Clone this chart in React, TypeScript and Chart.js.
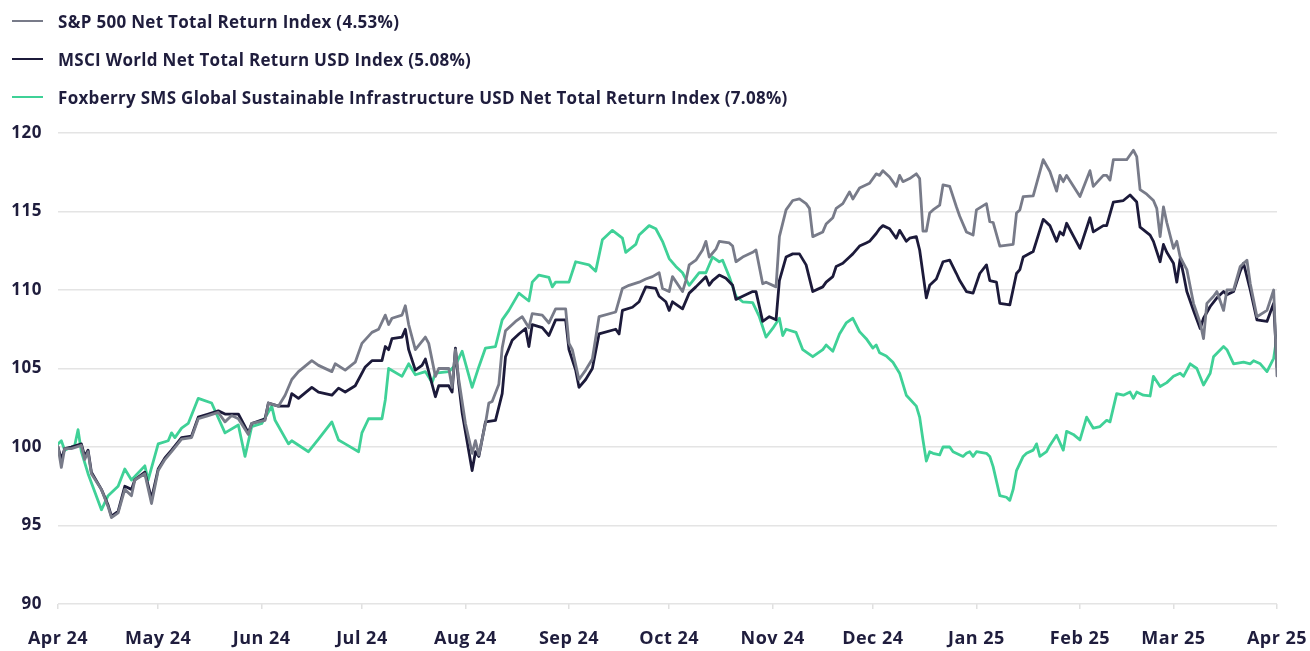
import { useEffect, useRef } from "react";
import { Chart, registerables } from "chart.js";

Chart.register(...registerables);

// x values are days since 1 Apr 2024
const monthDays = [0, 30, 61, 91, 122, 153, 183, 214, 244, 275, 306, 334, 365];
const monthLabels = ["Apr 24", "May 24", "Jun 24", "Jul 24", "Aug 24", "Sep 24", "Oct 24", "Nov 24", "Dec 24", "Jan 25", "Feb 25", "Mar 25", "Apr 25"];
const yTicks = [90, 95, 100, 105, 110, 115, 120];

const seriesNames = [
  "S&P 500 Net Total Return Index (4.53%)",
  "MSCI World Net Total Return USD Index (5.08%)",
  "Foxberry SMS Global Sustainable Infrastructure USD Net Total Return Index (7.08%)",
];
const seriesColors = ["#787b89", "#1c1a3a", "#3fd197"];

const spDays = [0, 1, 2, 4, 7, 8, 9, 10, 13, 15, 16, 18, 20, 22, 23, 26, 28, 30, 32, 34, 37, 40, 42, 45, 48, 50, 52, 54, 57, 58, 62, 63, 66, 68, 70, 72, 76, 78, 82, 83, 86, 89, 91, 94, 96, 98, 99, 100, 103, 104, 105, 107, 110, 111, 113, 114, 117, 118, 119, 120, 122, 124, 125, 126, 128, 129, 130, 132, 133, 134, 137, 139, 141, 142, 145, 147, 149, 152, 153, 154, 156, 158, 160, 162, 167, 169, 171, 174, 176, 178, 180, 181, 183, 184, 187, 188, 189, 191, 193, 194, 195, 197, 198, 201, 202, 203, 205, 208, 209, 211, 212, 215, 216, 218, 220, 222, 224, 225, 226, 229, 230, 232, 233, 235, 237, 238, 240, 243, 245, 246, 247, 249, 251, 252, 253, 255, 257, 258, 259, 260, 261, 262, 264, 265, 267, 269, 270, 272, 274, 275, 278, 279, 280, 282, 286, 287, 288, 289, 292, 295, 297, 299, 300, 301, 302, 306, 309, 310, 313, 314, 315, 316, 320, 322, 323, 324, 326, 328, 329, 330, 331, 332, 334, 335, 336, 337, 338, 340, 342, 343, 344, 346, 347, 349, 350, 352, 354, 356, 357, 359, 362, 364, 365];
const spValues = [100.0, 98.7, 99.9, 99.9, 100.1, 99.2, 99.7, 98.3, 97.3, 96.2, 95.5, 95.8, 97.3, 96.9, 97.9, 98.3, 96.4, 98.5, 99.2, 99.7, 100.5, 100.6, 101.8, 102.0, 102.2, 101.6, 102.0, 101.8, 100.8, 101.5, 101.7, 102.8, 102.6, 103.3, 104.3, 104.8, 105.5, 105.2, 104.8, 105.3, 104.9, 105.4, 106.6, 107.3, 107.5, 108.4, 107.8, 108.2, 108.4, 109.0, 107.8, 106.2, 107.0, 106.6, 104.5, 105.0, 105.0, 103.8, 106.2, 104.3, 101.5, 99.6, 100.4, 99.5, 101.5, 102.8, 102.9, 104.0, 106.3, 107.4, 108.0, 108.3, 107.6, 108.5, 108.4, 107.9, 108.8, 108.8, 106.6, 106.2, 104.3, 104.9, 105.6, 108.3, 108.6, 110.1, 110.3, 110.5, 110.7, 110.85, 111.1, 110.1, 109.9, 110.85, 109.9, 110.6, 111.6, 111.9, 112.55, 113.1, 112.1, 112.6, 113.1, 113.0, 112.8, 111.8, 112.1, 112.4, 112.55, 110.4, 110.5, 110.2, 113.4, 115.1, 115.7, 115.8, 115.5, 115.2, 113.4, 113.7, 114.2, 114.6, 115.2, 115.5, 116.25, 115.8, 116.5, 116.8, 117.4, 117.3, 117.6, 117.2, 116.6, 117.3, 116.9, 117.1, 117.4, 117.1, 113.75, 113.75, 114.9, 115.1, 115.4, 116.7, 116.6, 115.3, 114.7, 113.7, 113.5, 115.1, 115.5, 114.35, 114.3, 112.8, 112.9, 114.9, 115.1, 115.95, 116.0, 118.3, 117.55, 116.3, 117.3, 116.9, 117.3, 115.95, 117.6, 116.6, 117.3, 117.3, 117.0, 118.3, 118.3, 118.9, 118.5, 116.4, 116.1, 115.7, 115.2, 113.4, 115.3, 114.3, 112.65, 113.1, 112.1, 111.7, 111.3, 109.15, 107.9, 106.9, 109.15, 109.6, 109.9, 108.7, 110.0, 110.0, 111.5, 111.9, 110.4, 108.3, 108.7, 110.0, 104.53];

const msciDays = [0, 1, 2, 4, 7, 8, 9, 10, 13, 15, 16, 18, 20, 22, 23, 26, 28, 30, 32, 34, 37, 40, 42, 45, 48, 50, 54, 57, 58, 62, 63, 66, 69, 70, 72, 76, 78, 82, 84, 86, 89, 92, 94, 97, 98, 99, 100, 103, 104, 105, 107, 109, 110, 113, 114, 117, 118, 119, 120, 121, 124, 125, 126, 128, 131, 133, 134, 136, 138, 140, 141, 142, 145, 147, 149, 152, 153, 155, 156, 158, 160, 162, 167, 168, 169, 172, 174, 176, 179, 180, 182, 183, 184, 187, 189, 191, 194, 195, 196, 198, 200, 202, 203, 205, 208, 209, 211, 213, 215, 216, 218, 220, 222, 224, 226, 229, 230, 232, 233, 235, 237, 238, 240, 242, 243, 245, 246, 247, 249, 251, 252, 254, 255, 257, 258, 260, 261, 263, 265, 267, 269, 270, 272, 274, 276, 278, 279, 281, 282, 285, 287, 288, 289, 292, 295, 297, 299, 300, 301, 302, 306, 309, 310, 313, 314, 316, 319, 321, 323, 324, 327, 328, 330, 331, 332, 334, 335, 336, 337, 338, 340, 342, 343, 345, 347, 349, 350, 352, 354, 355, 357, 359, 362, 364, 365];
const msciValues = [100.0, 99.2, 99.9, 100.0, 100.2, 99.4, 99.8, 98.4, 97.3, 96.3, 95.6, 95.9, 97.5, 97.3, 97.9, 98.4, 96.7, 98.6, 99.3, 99.8, 100.6, 100.7, 101.9, 102.1, 102.3, 102.1, 102.1, 100.9, 101.5, 101.8, 102.8, 102.6, 102.6, 103.4, 103.1, 103.8, 103.5, 103.3, 103.75, 103.5, 103.9, 105.1, 105.5, 105.5, 106.4, 106.2, 106.9, 107.0, 107.5, 106.2, 104.9, 105.2, 105.6, 103.2, 103.9, 103.9, 103.5, 106.3, 104.0, 102.2, 98.5, 99.7, 99.4, 101.6, 101.7, 103.4, 105.75, 106.8, 107.2, 107.55, 106.4, 107.8, 107.6, 107.1, 108.1, 108.1, 106.2, 104.9, 103.8, 104.3, 105.0, 107.2, 107.5, 107.2, 108.7, 108.9, 109.25, 110.2, 110.1, 109.6, 109.25, 108.7, 109.25, 108.8, 109.8, 110.2, 110.85, 110.3, 110.6, 110.95, 110.75, 110.3, 109.4, 109.6, 109.9, 109.9, 108.0, 108.3, 108.1, 110.6, 112.1, 112.3, 112.3, 111.6, 109.9, 110.2, 110.5, 110.85, 111.5, 111.7, 112.1, 112.3, 112.8, 113.0, 113.1, 113.6, 113.9, 114.1, 113.9, 113.3, 113.8, 113.1, 113.3, 113.4, 112.55, 109.5, 110.3, 110.7, 111.8, 111.9, 111.05, 110.6, 109.9, 109.8, 111.05, 111.6, 110.6, 110.5, 109.15, 109.05, 111.05, 111.3, 112.1, 112.45, 114.5, 114.1, 113.1, 113.7, 113.5, 114.25, 112.65, 114.6, 113.7, 114.1, 114.1, 115.6, 115.7, 116.05, 115.6, 114.0, 113.5, 113.1, 111.8, 112.9, 112.4, 111.7, 110.5, 112.0, 111.0, 109.9, 108.7, 107.55, 108.2, 108.95, 109.5, 109.9, 109.7, 109.9, 111.2, 111.7, 110.0, 108.1, 108.0, 109.15, 105.08];

const foxDays = [0, 1, 2, 5, 6, 7, 9, 13, 15, 18, 20, 22, 26, 27, 30, 33, 34, 35, 37, 39, 42, 46, 50, 54, 56, 58, 61, 64, 65, 69, 70, 75, 78, 82, 84, 86, 90, 91, 93, 97, 98, 99, 103, 105, 107, 110, 112, 113, 117, 119, 121, 124, 126, 128, 131, 133, 135, 138, 141, 142, 144, 147, 148, 149, 153, 155, 159, 161, 163, 166, 169, 170, 173, 174, 177, 179, 181, 183, 185, 187, 189, 192, 194, 196, 198, 199, 201, 203, 205, 208, 210, 212, 214, 216, 217, 218, 221, 223, 226, 229, 230, 232, 234, 236, 238, 240, 242, 244, 245, 246, 248, 250, 252, 254, 257, 258, 259, 260, 261, 262, 264, 265, 267, 268, 271, 272, 273, 274, 275, 278, 279, 280, 282, 284, 285, 286, 287, 289, 290, 292, 293, 294, 296, 297, 299, 301, 302, 304, 306, 308, 310, 312, 314, 315, 317, 319, 321, 322, 323, 325, 327, 328, 330, 332, 334, 336, 337, 339, 341, 343, 345, 346, 349, 350, 352, 355, 357, 358, 360, 362, 364, 365];
const foxValues = [100.2, 100.4, 99.8, 100.1, 101.1, 99.7, 98.3, 96.0, 96.9, 97.5, 98.6, 97.9, 98.8, 97.9, 100.2, 100.4, 100.9, 100.6, 101.2, 101.5, 103.1, 102.8, 100.9, 101.4, 99.4, 101.3, 101.5, 102.6, 101.7, 100.2, 100.4, 99.7, 100.5, 101.6, 100.45, 100.2, 99.7, 100.9, 101.8, 101.8, 103.0, 105.0, 104.5, 105.3, 104.6, 104.8, 104.1, 104.7, 104.8, 105.2, 106.1, 103.8, 105.1, 106.3, 106.4, 108.1, 108.7, 109.8, 109.3, 110.5, 110.95, 110.8, 110.2, 110.5, 110.5, 111.8, 111.6, 111.2, 113.2, 113.8, 113.3, 112.4, 112.9, 113.5, 114.1, 113.9, 113.1, 112.0, 111.5, 111.1, 110.3, 111.1, 111.1, 112.1, 111.8, 111.9, 110.85, 109.6, 109.25, 109.2, 108.3, 107.0, 107.55, 108.2, 107.1, 107.5, 107.3, 106.2, 105.75, 106.2, 106.5, 106.1, 107.2, 107.9, 108.2, 107.35, 106.9, 106.3, 106.5, 106.0, 105.8, 105.4, 104.7, 103.3, 102.6, 101.9, 100.45, 99.1, 99.7, 99.6, 99.5, 100.0, 100.0, 99.7, 99.4, 99.6, 99.7, 99.4, 99.7, 99.6, 99.4, 98.75, 96.9, 96.8, 96.6, 97.3, 98.5, 99.4, 99.6, 99.8, 100.2, 99.4, 99.7, 100.1, 100.75, 99.8, 101.0, 100.8, 100.45, 101.9, 101.2, 101.3, 101.7, 101.6, 103.4, 103.3, 103.5, 103.1, 103.5, 103.3, 103.25, 104.5, 103.85, 104.1, 104.5, 104.7, 104.5, 105.3, 105.0, 103.95, 104.7, 105.75, 106.4, 106.2, 105.3, 105.4, 105.3, 105.5, 105.3, 104.8, 105.65, 107.08];

const textColor = "#1f1d3d";
const fontFamily = "'Open Sans', Lato, sans-serif";

const letterSpacingPlugin = {
  id: "letterSpacing",
  beforeUpdate(chart: any) {
    chart.ctx.letterSpacing = "0.5px";
  },
  beforeDraw(chart: any) {
    chart.ctx.letterSpacing = "0.5px";
  },
};

export default function App() {
  const ref = useRef<HTMLCanvasElement>(null);

  useEffect(() => {
    if (!ref.current) return;
    const toPoints = (xs: number[], ys: number[]) => xs.map((x, i) => ({ x, y: ys[i] }));
    const chart = new Chart(ref.current, {
      type: "line",
      data: {
        datasets: [
          { label: seriesNames[0], data: toPoints(spDays, spValues), borderColor: seriesColors[0], backgroundColor: seriesColors[0] },
          { label: seriesNames[1], data: toPoints(msciDays, msciValues), borderColor: seriesColors[1], backgroundColor: seriesColors[1] },
          { label: seriesNames[2], data: toPoints(foxDays, foxValues), borderColor: seriesColors[2], backgroundColor: seriesColors[2] },
        ],
      },
      plugins: [letterSpacingPlugin],
      options: {
        responsive: false,
        animation: false,
        devicePixelRatio: 1,
        layout: { padding: { top: 133, right: 33, bottom: 0, left: 0 } },
        elements: {
          point: { radius: 0 },
          line: { borderWidth: 2.8, tension: 0, borderJoinStyle: "round", borderCapStyle: "round" },
        },
        plugins: { legend: { display: false }, tooltip: { enabled: false } },
        scales: {
          x: {
            type: "linear",
            min: monthDays[0],
            max: monthDays[monthDays.length - 1],
            afterBuildTicks: (axis: any) => {
              axis.ticks = monthDays.map((v) => ({ value: v }));
            },
            afterFit: (axis: any) => {
              axis.height = 47;
              axis.paddingLeft = 0;
              axis.paddingRight = 0;
            },
            grid: { drawOnChartArea: false, drawTicks: true, tickLength: 5, color: "#e0e0e0", lineWidth: 1.5 },
            border: { display: false },
            ticks: {
              autoSkip: false,
              maxRotation: 0,
              padding: 19,
              color: textColor,
              font: { family: fontFamily, size: 18, weight: "bold" },
              callback: (value: any) => {
                const i = monthDays.indexOf(Number(value));
                return i >= 0 ? monthLabels[i] : "";
              },
            },
          },
          y: {
            min: yTicks[0],
            max: yTicks[yTicks.length - 1],
            afterBuildTicks: (axis: any) => {
              axis.ticks = yTicks.map((v) => ({ value: v }));
            },
            afterFit: (axis: any) => {
              axis.width = 58;
            },
            grid: { drawTicks: false, color: "#e4e4e4", lineWidth: 1.6 },
            border: { display: false },
            ticks: {
              padding: 16,
              color: textColor,
              font: { family: fontFamily, size: 17, weight: "bold" },
            },
          },
        },
      },
    } as any);
    return () => chart.destroy();
  }, []);

  return (
    <div style={{ position: "fixed", left: 0, top: 0, width: 1310, height: 651, background: "#ffffff", overflow: "hidden" }}>
      <canvas ref={ref} width={1310} height={651} style={{ position: "absolute", left: 0, top: 0, width: 1310, height: 651 }} />
      <div style={{ position: "absolute", left: 12, top: 2, fontFamily, fontWeight: 700, fontSize: 17, letterSpacing: "0.3px", color: textColor }}>
        {seriesNames.map((name, i) => (
          <div key={name} style={{ display: "flex", alignItems: "center", height: 38 }}>
            <div style={{ width: 31, height: 2, background: seriesColors[i], marginRight: 15 }} />
            <span style={{ whiteSpace: "nowrap" }}>{name}</span>
          </div>
        ))}
      </div>
    </div>
  );
}
